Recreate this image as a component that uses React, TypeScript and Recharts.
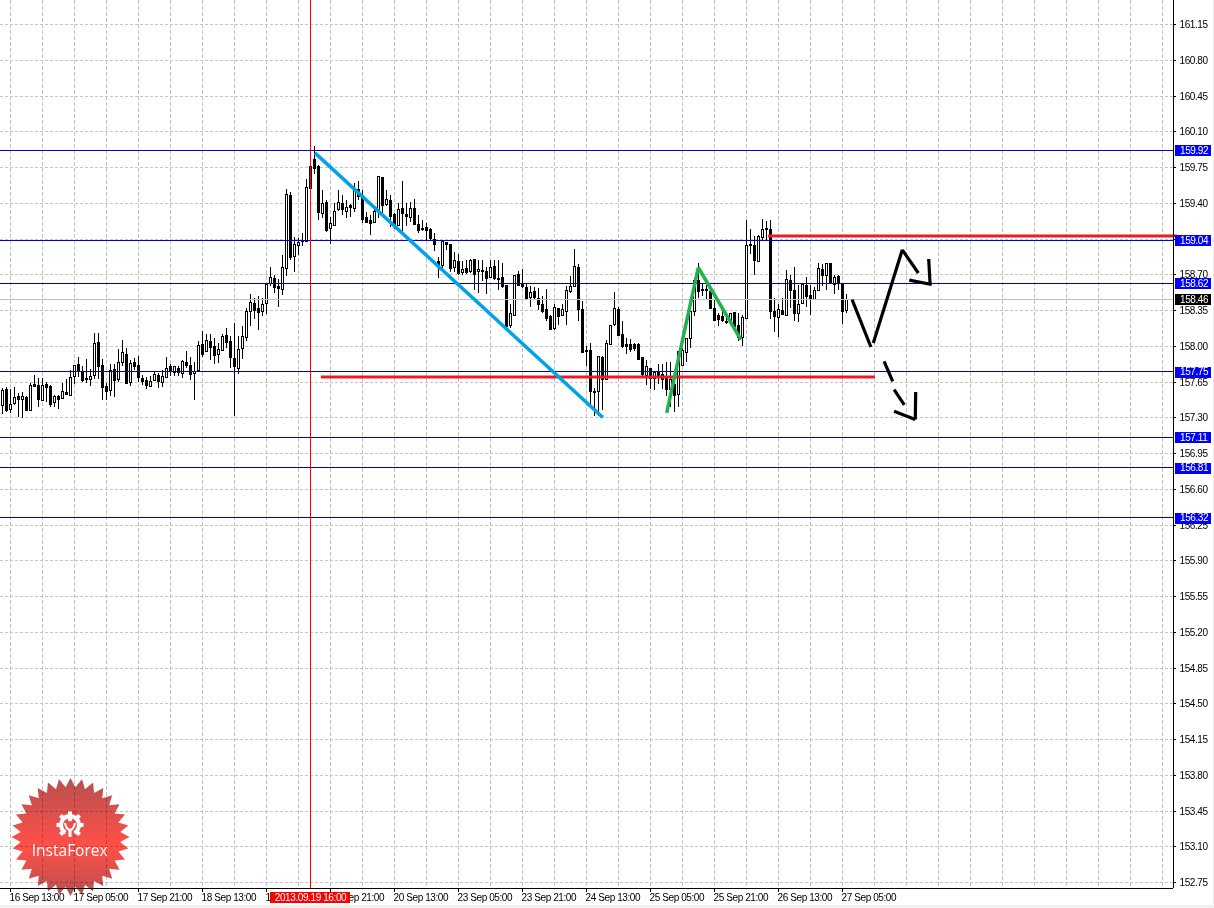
import React from "react";
import { ComposedChart, Bar, XAxis, YAxis, CartesianGrid, ReferenceLine } from "recharts";

const opens = [
157.43,157.58,157.39,157.45,157.51,157.48,157.50,157.38,157.63,157.62,
157.47,157.63,157.61,157.46,157.51,157.49,157.55,157.52,157.71,157.83,
157.76,157.69,157.68,157.72,158.04,157.82,157.61,157.57,157.78,157.68,
157.85,157.93,157.65,157.85,157.82,157.69,157.67,157.61,157.67,157.72,
157.65,157.70,157.81,157.75,157.79,157.74,157.85,157.82,157.74,157.77,
158.02,157.95,158.05,158.00,157.93,157.96,158.11,158.05,157.89,157.79,
157.98,158.09,158.35,158.42,158.38,158.35,158.42,158.62,158.67,158.59,
158.56,158.77,159.48,158.88,158.99,159.04,159.03,159.77,159.83,159.77,
159.31,159.41,159.16,159.19,159.34,159.40,159.33,159.38,159.35,159.54,
159.48,159.27,159.24,159.22,159.34,159.66,159.39,159.43,159.30,159.19,
159.35,159.30,159.27,159.35,159.20,159.16,159.17,159.15,159.05,158.84,
158.80,159.02,159.00,158.78,158.84,158.73,158.77,158.74,158.86,158.74,
158.75,158.74,158.68,158.79,158.67,158.68,158.60,158.21,158.31,158.71,
158.61,158.58,158.48,158.54,158.47,158.41,158.37,158.30,158.18,158.38,
158.31,158.35,158.54,158.59,158.78,158.37,157.96,157.96,157.56,157.56,
157.90,157.68,158.02,158.22,158.37,158.12,158.02,158.02,158.02,158.02,
157.90,157.72,157.79,157.69,157.75,157.73,157.71,157.58,157.63,157.53,
157.82,157.94,158.08,158.35,158.65,158.55,158.56,158.54,158.38,158.31,
158.30,158.25,158.24,158.34,158.21,158.09,158.28,158.99,158.99,158.84,
159.07,159.15,159.15,158.35,158.29,158.36,158.31,158.65,158.55,158.33,
158.42,158.60,158.50,158.46,158.55,158.76,158.70,158.82,158.61,158.69,
158.62,158.36];
const highs = [
157.59,157.60,157.58,157.60,157.54,157.55,157.51,157.64,157.72,157.69,
157.69,157.65,157.62,157.52,157.52,157.64,157.68,157.77,157.82,157.90,
157.81,157.88,157.78,158.13,158.13,157.88,157.64,157.83,157.83,157.97,
158.06,157.98,157.87,157.89,157.91,157.72,157.70,157.71,157.76,157.74,
157.77,157.90,157.83,157.81,157.81,157.87,157.95,157.90,157.85,158.05,
158.15,158.12,158.12,158.08,158.03,158.12,158.18,158.10,158.23,158.10,
158.20,158.38,158.51,158.47,158.49,158.47,158.62,158.78,158.70,158.66,
158.89,159.54,159.51,159.07,159.06,159.11,159.64,159.80,159.96,159.78,
159.53,159.43,159.27,159.40,159.53,159.48,159.43,159.39,159.60,159.62,
159.53,159.32,159.29,159.35,159.67,159.66,159.53,159.48,159.31,159.40,
159.62,159.40,159.41,159.44,159.29,159.24,159.21,159.16,159.11,158.87,
159.03,159.02,159.00,158.92,158.90,158.84,158.85,158.86,158.86,158.85,
158.85,158.78,158.85,158.85,158.85,158.82,158.60,158.41,158.70,158.74,
158.76,158.62,158.59,158.58,158.57,158.49,158.56,158.31,158.41,158.38,
158.41,158.59,158.69,158.95,158.81,158.44,158.00,158.03,157.59,157.91,
157.91,158.06,158.21,158.53,158.39,158.25,158.08,158.07,158.03,158.03,
157.90,157.87,157.79,157.76,157.83,157.83,157.85,157.85,157.68,157.95,
157.98,158.08,158.35,158.67,158.82,158.62,158.60,158.57,158.46,158.33,
158.39,158.33,158.33,158.34,158.33,158.31,159.24,159.15,159.08,159.09,
159.25,159.23,159.24,158.47,158.41,158.47,158.75,158.70,158.78,158.60,
158.62,158.68,158.60,158.58,158.82,158.81,158.82,158.82,158.70,158.70,
158.62,158.51];
const lows = [
157.34,157.36,157.35,157.43,157.31,157.30,157.37,157.37,157.60,157.41,
157.47,157.46,157.41,157.41,157.39,157.48,157.52,157.52,157.63,157.70,
157.65,157.64,157.61,157.68,157.68,157.47,157.47,157.51,157.50,157.65,
157.81,157.64,157.61,157.77,157.65,157.62,157.58,157.60,157.66,157.59,
157.60,157.69,157.71,157.71,157.71,157.69,157.79,157.67,157.47,157.76,
157.90,157.94,157.87,157.83,157.84,157.95,157.98,157.79,157.32,157.73,
157.88,158.05,158.20,158.27,158.16,158.30,158.32,158.59,158.52,158.39,
158.50,158.69,158.85,158.73,158.89,158.98,159.03,159.54,159.69,159.24,
159.26,159.12,159.00,159.18,159.33,159.29,159.26,159.27,159.32,159.43,
159.21,159.21,159.09,159.21,159.26,159.29,159.37,159.17,159.15,159.18,
159.13,159.18,159.22,159.19,159.11,159.13,159.03,159.04,158.93,158.67,
158.75,158.94,158.73,158.73,158.70,158.70,158.71,158.72,158.55,158.52,
158.64,158.51,158.67,158.65,158.55,158.57,158.20,158.18,158.31,158.60,
158.57,158.46,158.39,158.46,158.36,158.33,158.25,158.16,158.16,158.21,
158.30,158.21,158.52,158.59,158.25,157.94,157.81,157.41,157.32,157.32,
157.38,157.68,158.02,158.20,158.10,157.98,157.93,157.94,157.95,157.87,
157.69,157.62,157.58,157.57,157.63,157.58,157.51,157.41,157.36,157.41,
157.81,157.85,157.98,158.30,158.47,158.49,158.46,158.38,158.25,158.20,
158.24,158.22,158.22,158.18,158.05,158.00,158.27,158.90,158.70,158.83,
159.03,159.03,158.27,158.14,158.09,158.31,158.31,158.38,158.25,158.24,
158.41,158.39,158.31,158.45,158.55,158.59,158.55,158.61,158.51,158.55,
158.22,158.33];
const closes = [
157.57,157.38,157.44,157.50,157.48,157.51,157.38,157.62,157.61,157.48,
157.62,157.60,157.44,157.51,157.48,157.56,157.53,157.70,157.82,157.76,
157.67,157.68,157.71,158.03,157.81,157.60,157.56,157.77,157.67,157.85,
157.94,157.64,157.84,157.81,157.70,157.66,157.62,157.66,157.73,157.66,
157.71,157.79,157.76,157.81,157.75,157.86,157.82,157.73,157.76,158.01,
157.93,158.06,157.99,157.92,157.97,158.10,158.04,157.90,157.81,157.97,
158.10,158.35,158.43,158.36,158.34,158.41,158.61,158.68,158.58,158.57,
158.78,159.49,158.87,159.00,159.02,159.03,159.56,159.55,159.75,159.32,
159.40,159.14,159.21,159.33,159.41,159.34,159.36,159.36,159.53,159.47,
159.25,159.22,159.21,159.33,159.67,159.38,159.44,159.28,159.20,159.34,
159.31,159.28,159.35,159.20,159.14,159.15,159.14,159.06,159.00,158.79,
159.03,159.00,158.77,158.85,158.72,158.76,158.73,158.85,158.71,158.76,
158.74,158.67,158.78,158.67,158.66,158.59,158.20,158.33,158.70,158.60,
158.59,158.47,158.53,158.48,158.41,158.35,158.28,158.17,158.39,158.30,
158.37,158.55,158.59,158.79,158.37,157.94,157.95,157.56,157.55,157.91,
157.68,158.03,158.21,158.38,158.11,158.00,158.00,157.97,157.98,157.88,
157.73,157.81,157.69,157.75,157.70,157.68,157.58,157.68,157.52,157.95,
157.96,158.08,158.35,158.65,158.54,158.56,158.55,158.38,158.26,158.27,
158.26,158.24,158.33,158.20,158.09,158.29,158.99,159.00,158.85,159.08,
159.15,159.16,158.35,158.30,158.37,158.32,158.66,158.55,158.33,158.41,
158.61,158.49,158.47,158.55,158.77,158.70,158.82,158.62,158.68,158.62,
158.35,158.46];

const priceTicks = [161.15,160.80,160.45,160.10,159.75,159.40,159.05,158.70,158.35,158.00,157.65,157.30,156.95,156.60,156.25,155.90,155.55,155.20,154.85,154.50,154.15,153.80,153.45,153.10,152.75];
const blueLevels = [159.92,159.04,158.62,157.75,157.11,156.81,156.32];
const bidPrice = 158.46;
const timeTickIndex = [2,18,34,50,66,82,98,114,130,146,162,178,194,210];
const timeTickLabels = ["16 Sep 13:00","17 Sep 05:00","17 Sep 21:00","18 Sep 13:00","19 Sep 05:00","19 Sep 21:00","20 Sep 13:00","23 Sep 05:00","23 Sep 21:00","24 Sep 13:00","25 Sep 05:00","25 Sep 21:00","26 Sep 13:00","27 Sep 05:00"];
const gridIndex = [2,10,18,26,34,42,50,58,66,74,82,90,98,106,114,122,130,138,146,154,162,170,178,186,194,202,210,218,226,234,242,250,258,266,274,282,290];
const crossIndex = 77;
const crossLabel = "2013.09.19 16:00";

type P = { x: number; y: number };
const cyanLine: P[] = [{x:78.1,y:159.894},{x:150.1,y:157.303}];
const greenLegA: P[] = [{x:166.05,y:157.349},{x:173.95,y:158.772}];
const greenLegB: P[] = [{x:173.95,y:158.772},{x:184.6,y:158.066}];
const redLow: P[] = [{x:79.6,y:157.70},{x:218.1,y:157.70}];
const redHigh: P[] = [{x:191.4,y:159.08},{x:293.6,y:159.08}];
const blackStrokes: P[][] = [
  [{x:212.4,y:158.457},{x:217.1,y:157.994}],
  [{x:217.7,y:158.033},{x:224.95,y:158.945}],
  [{x:224.95,y:158.945},{x:228.95,y:158.718}],
  [{x:226.7,y:158.649},{x:232.3,y:158.606}],
  [{x:231.55,y:158.855},{x:231.9,y:158.606}],
  [{x:220.4,y:157.853},{x:222.55,y:157.658}],
  [{x:222.9,y:157.577},{x:225.45,y:157.427}],
  [{x:222.9,y:157.365},{x:228.2,y:157.284}],
  [{x:228.3,y:157.554},{x:228.2,y:157.284}],
];

const rows = opens.map((o, i) => ({ i, open: o, high: highs[i], low: lows[i], close: closes[i], wick: [lows[i], highs[i]] }));
const axisFont = "'Liberation Sans', sans-serif";
const axisSize = 10;
const axisSpacing = -0.4;

function Candle(props: any) {
  const { x, y, width, height, payload } = props;
  const cx = Math.floor(x + width / 2);
  const span = payload.high - payload.low;
  const toY = (p: number) => y + ((payload.high - p) / span) * height;
  const up = payload.close >= payload.open;
  const top = Math.round(toY(Math.max(payload.open, payload.close)));
  const bot = Math.round(toY(Math.min(payload.open, payload.close)));
  const h = Math.max(bot - top, 1);
  return (
    <g shapeRendering="crispEdges">
      <rect x={cx} y={y} width={1} height={Math.max(height, 1)} fill="#000" />
      <rect x={cx - 1} y={top} width={3} height={h + 1} fill="#000" />
      {up && h >= 2 ? <rect x={cx} y={top + 1} width={1} height={h - 1} fill="#fff" /> : null}
    </g>
  );
}

function PriceTick(props: any) {
  const { y, payload } = props;
  const v = payload.value;
  const isBlue = blueLevels.includes(v);
  const isBid = v === bidPrice;
  const left = 1173;
  if (isBlue || isBid) {
    return (
      <g>
        <rect x={left + 2} y={Math.round(y) - 5} width={36} height={11} fill={isBid ? "#000" : "#0000ff"} />
        <text x={left + 7} y={y + 3.5} fontSize={axisSize} letterSpacing={axisSpacing} fontFamily={axisFont} fill="#fff">{v.toFixed(2)}</text>
      </g>
    );
  }
  return (
    <g>
      <line x1={left} x2={left + 3} y1={y} y2={y} stroke="#000" shapeRendering="crispEdges" />
      <text x={left + 6.5} y={y + 3.5} fontSize={axisSize} letterSpacing={axisSpacing} fontFamily={axisFont} fill="#000">{v.toFixed(2)}</text>
    </g>
  );
}

function TimeTick(props: any) {
  const { x, payload } = props;
  const v = payload.value;
  const top = 888;
  if (v === crossIndex) {
    return (
      <g>
        <rect x={x - 40.5} y={top + 4} width={80} height={11} fill="#ff0000" />
        <text x={x} y={top + 13} textAnchor="middle" fontSize={axisSize} letterSpacing={axisSpacing} fontFamily={axisFont} fill="#fff">{crossLabel}</text>
      </g>
    );
  }
  const label = timeTickLabels[timeTickIndex.indexOf(v)];
  return (
    <g>
      <line x1={x} x2={x} y1={top} y2={top + 4} stroke="#000" shapeRendering="crispEdges" />
      <text x={x - 1} y={top + 13} fontSize={axisSize} letterSpacing={axisSpacing} fontFamily={axisFont} fill="#000">{label}</text>
    </g>
  );
}

function LogoBadge() {
  const cx = 70.5, cy = 837, spikes = 32;
  const pts: string[] = [];
  for (let k = 0; k < spikes * 2; k++) {
    const r = k % 2 === 0 ? 59 : 50;
    const a = (Math.PI * k) / spikes - Math.PI / 2;
    pts.push(`${cx + r * Math.cos(a)},${cy + r * Math.sin(a)}`);
  }
  return (
    <svg width={1214} height={908} style={{ position: "absolute", left: 0, top: 0, mixBlendMode: "multiply", pointerEvents: "none" }}>
      <defs>
        <linearGradient id="lg" x1="0" y1="0" x2="0" y2="1">
          <stop offset="0" stopColor="#b85050" />
          <stop offset="0.58" stopColor="#ff5048" />
          <stop offset="1" stopColor="#b85050" />
        </linearGradient>
      </defs>
      <polygon points={pts.join(" ")} fill="url(#lg)" />
    </svg>
  );
}

function LogoMark() {
  const teethAngles = [0, 45, 90, 135, 225, 270, 315];
  return (
    <svg width={1214} height={908} style={{ position: "absolute", left: 0, top: 0, pointerEvents: "none" }}>
      <circle cx={70} cy={825} r={9} fill="none" stroke="#fff" strokeWidth={4} strokeDasharray="47 9.5" transform="rotate(120 70 825)" />
      {teethAngles.map((t) => (
        <rect key={t} x={68} y={811.5} width={4} height={4} fill="#fff" transform={`rotate(${t} 70 825)`} />
      ))}
      <circle cx={70} cy={819} r={2.4} fill="#fff" />
      <path d="M65 823 Q66 829 70 830 Q74 829 75 823" fill="none" stroke="#fff" strokeWidth={2} />
      <rect x={68.5} y={829} width={3} height={8} fill="#fff" />
      <text x={69.7} y={856} textAnchor="middle" fontSize={15.5} fontFamily="'Open Sans', sans-serif" fill="#fff">InstaForex</text>
    </svg>
  );
}

const levelShape = { shapeRendering: "crispEdges" } as any;

export default function App() {
  return (
    <div style={{ position: "absolute", left: 0, top: 0, width: 1214, height: 908, background: "#fff", overflow: "hidden" }}>
      <div style={{ position: "absolute", left: 0, top: 905, width: 1214, height: 3, background: "#f0f0f0" }} />
      <div style={{ position: "absolute", left: 1213, top: 0, width: 1, height: 908, background: "#f0f0f0" }} />
      <div style={{ position: "absolute", left: 0, top: 0 }}>
        <ComposedChart width={1214} height={908} data={rows} margin={{ top: 0, right: 0, bottom: 0, left: 0 }}>
          <CartesianGrid
            stroke="#c4c4c4"
            strokeDasharray="3 2"
            vertical={false}
            horizontalValues={priceTicks}
            shapeRendering="crispEdges"
          />
          <CartesianGrid
            stroke="#c4c4c4"
            strokeDasharray="4 2"
            horizontal={false}
            verticalValues={gridIndex}
            shapeRendering="crispEdges"
          />
          <XAxis
            dataKey="i"
            type="number"
            domain={[-0.625, 292.625]}
            allowDataOverflow
            ticks={[...timeTickIndex, crossIndex]}
            interval={0}
            height={20}
            tickLine={false}
            axisLine={{ stroke: "#000", shapeRendering: "crispEdges" }}
            tick={<TimeTick />}
          />
          <YAxis
            orientation="right"
            type="number"
            width={41}
            domain={[152.697, 161.391]}
            allowDataOverflow
            ticks={[...priceTicks, ...blueLevels, bidPrice]}
            interval={0}
            tickLine={false}
            axisLine={{ stroke: "#000", shapeRendering: "crispEdges" }}
            tick={<PriceTick />}
          />
          <Bar dataKey="wick" barSize={3} isAnimationActive={false} shape={<Candle />} />
          <ReferenceLine y={bidPrice} stroke="#c0c0c0" {...levelShape} />
          {blueLevels.map((v) => (
            <ReferenceLine key={v} y={v} stroke="#0000d0" {...levelShape} />
          ))}
          <ReferenceLine x={crossIndex} stroke="#ff0000" {...levelShape} />
          <ReferenceLine segment={redLow} stroke="#ed1c24" strokeWidth={3} ifOverflow="visible" />
          <ReferenceLine segment={redHigh} stroke="#ed1c24" strokeWidth={3} ifOverflow="visible" />
          <ReferenceLine segment={cyanLine} stroke="#00a2e8" strokeWidth={3.5} ifOverflow="visible" />
          <ReferenceLine segment={greenLegA} stroke="#22b14c" strokeWidth={3.5} ifOverflow="visible" />
          <ReferenceLine segment={greenLegB} stroke="#22b14c" strokeWidth={3.5} ifOverflow="visible" />
          {blackStrokes.map((s, k) => (
            <ReferenceLine key={k} segment={s} stroke="#000" strokeWidth={3.2} ifOverflow="visible" />
          ))}
        </ComposedChart>
      </div>
      <LogoBadge />
      <LogoMark />
    </div>
  );
}
